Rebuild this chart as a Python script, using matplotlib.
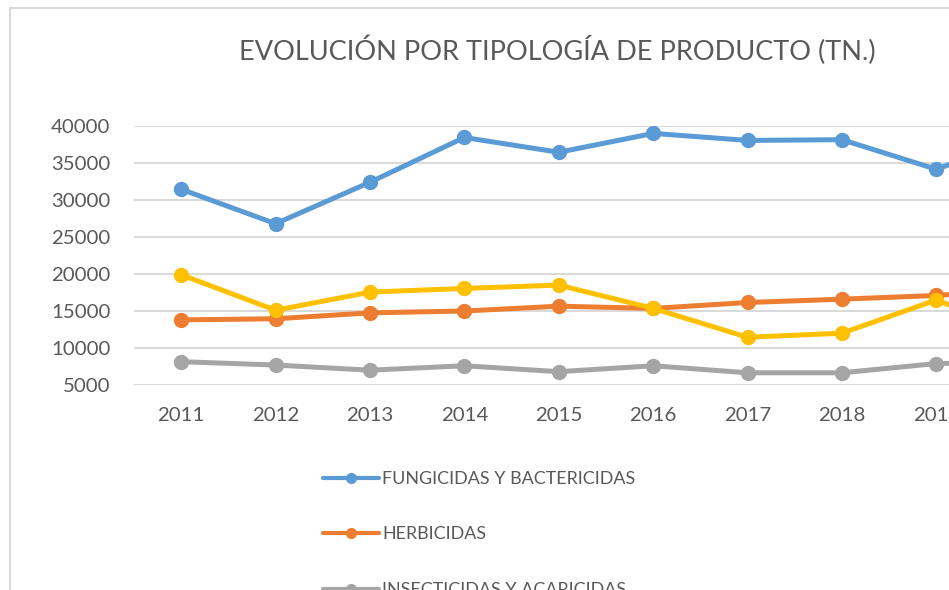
import matplotlib
matplotlib.use("Agg")
import matplotlib.pyplot as plt
from matplotlib.lines import Line2D

plt.rcParams['font.family'] = ['Lato', 'DejaVu Sans']

years = ["2011", "2012", "2013", "2014", "2015", "2016", "2017", "2018", "2019", "2020"]
fungicidas = [31450, 26800, 32400, 38450, 36450, 39000, 38050, 38150, 34150, 38800]
herbicidas = [13800, 13950, 14750, 15000, 15650, 15350, 16150, 16600, 17100, 18000]
insecticidas = [8150, 7700, 7000, 7600, 6800, 7600, 6650, 6650, 7900, 8100]
otros = [19900, 15100, 17550, 18050, 18500, 15350, 11450, 12000, 16500, 11500]

series_names = ["FUNGICIDAS Y BACTERICIDAS", "HERBICIDAS", "INSECTICIDAS Y ACARICIDAS"]
colors = ["#5B9BD5", "#ED7D31", "#A5A5A5", "#FFC000"]
yticks = [5000, 10000, 15000, 20000, 25000, 30000, 35000, 40000]
title = "EVOLUCIÓN POR TIPOLOGÍA DE PRODUCTO (TN.)"

W, H = 949, 590
fig = plt.figure(figsize=(W / 100, H / 100), dpi=100)

# axes: left edge at 134 px, category spacing 94.4 px, y 5000 at 385 px, 40000 at 126 px
left = 134 / W
width = 94.4 * len(years) / W
bottom = (H - 385) / H
height = (385 - 126) / H
ax = fig.add_axes([left, bottom, width, height])

x = list(range(len(years)))
lw = 3.6
ms = 10
ax.plot(x, fungicidas, color=colors[0], lw=lw, marker='o', ms=ms, solid_capstyle='round', zorder=3)
ax.plot(x, herbicidas, color=colors[1], lw=lw, marker='o', ms=ms, solid_capstyle='round', zorder=3)
ax.plot(x, insecticidas, color=colors[2], lw=lw, marker='o', ms=ms, solid_capstyle='round', zorder=3)
ax.plot(x, otros, color=colors[3], lw=lw, marker='o', ms=ms, solid_capstyle='round', zorder=4)

ax.set_xlim(-0.5, len(years) - 0.5)
ax.set_ylim(5000, 40000)
ax.set_yticks(yticks)
ax.set_yticklabels([str(v) for v in yticks])
ax.set_xticks(x)
ax.set_xticklabels(years)
ax.grid(axis='y', color='#D9D9D9', lw=1.4, zorder=0)
ax.set_axisbelow(True)
for s in ax.spines.values():
    s.set_visible(False)
ax.tick_params(axis='both', length=0, labelsize=14.7, colors='#595959')
ax.tick_params(axis='y', pad=17)
ax.tick_params(axis='x', pad=16)

# title
fig.text(557 / W, 1 - 50 / H, title, ha='center', va='center', fontsize=19.5,
         color='#595959', fontweight='normal')

# chart area border
fig.add_artist(Line2D([9.5 / W, 9.5 / W], [1 - 7.5 / H, -0.1], color='#D9D9D9', lw=1.5))
fig.add_artist(Line2D([9.5 / W, 1.1], [1 - 7.5 / H, 1 - 7.5 / H], color='#D9D9D9', lw=1.5))

handles = [Line2D([], [], color=colors[i], lw=3, marker='o', ms=7, solid_capstyle='round')
           for i in range(3)]
fig.legend(handles, series_names, loc='upper left', bbox_to_anchor=(323 / W, 1 - 471 / H),
           frameon=False, fontsize=12.9, labelcolor='#595959', handlelength=3.15,
           handletextpad=0.15, labelspacing=2.2, borderpad=0, borderaxespad=0)

fig.savefig("out.png", dpi=100)
